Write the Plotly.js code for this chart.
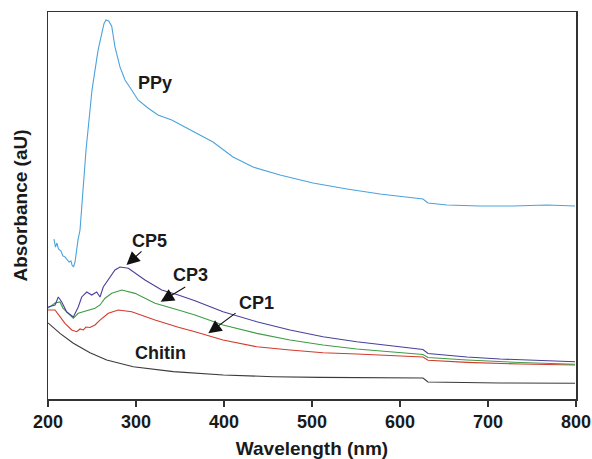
<!DOCTYPE html>
<html>
<head>
<meta charset="utf-8">
<script src="https://cdn.plot.ly/plotly-3.0.1.min.js"></script>
<style>html,body{margin:0;padding:0;background:#fff;}#chart{width:592px;height:459px;}</style>
</head>
<body>
<div id="chart"></div>
<script>
// Wavelength (nm) and absorbance (arbitrary units)
const ppyX = [206.8,208.5,210.2,211.9,214.8,217.0,219.3,221.6,223.9,226.1,227.3,229.0,230.7,234.1,236.4,243.2,250.0,256.8,261.0,263.6,265.9,269.0,272.4,276.1,281.8,287.5,295.1,302.3,313.6,325.0,340.6,355.7,367.0,387.5,410.2,433.0,463.6,501.1,539.8,577.3,626.1,631.8,653.4,690.9,728.4,767.0,798.9];
const ppyY = [1.240,1.178,1.209,1.163,1.147,1.109,1.101,1.078,1.062,1.070,1.039,1.023,1.062,1.233,1.310,1.930,2.395,2.700,2.840,2.910,2.938,2.930,2.890,2.729,2.574,2.473,2.395,2.318,2.256,2.202,2.163,2.109,2.070,1.992,1.876,1.798,1.736,1.674,1.628,1.589,1.550,1.519,1.504,1.496,1.496,1.504,1.496];

const cp5X = [200.0,208.0,211.7,215.6,221.3,228.8,234.4,238.3,244.0,249.7,255.3,259.1,262.8,268.5,276.1,281.8,291.3,310.2,329.2,348.1,367.0,398.9,437.2,475.0,512.5,550.8,588.6,626.1,631.8,676.1,713.6,759.1,798.9];
const cp5Y = [0.713,0.729,0.791,0.752,0.674,0.636,0.713,0.791,0.829,0.806,0.829,0.791,0.868,0.922,1.000,1.023,1.013,0.922,0.845,0.806,0.762,0.677,0.599,0.535,0.483,0.444,0.413,0.384,0.353,0.326,0.310,0.298,0.289];

const cp3X = [200.0,208.0,213.6,217.0,225.0,228.8,234.4,240.1,245.8,253.4,259.1,264.8,272.4,283.8,298.9,321.6,348.1,367.0,398.9,437.2,475.0,512.5,550.8,588.6,626.1,631.8,676.1,736.4,798.9];
const cp3Y = [0.705,0.744,0.752,0.705,0.651,0.626,0.664,0.677,0.690,0.703,0.729,0.781,0.819,0.845,0.819,0.742,0.690,0.651,0.574,0.509,0.457,0.419,0.388,0.367,0.345,0.322,0.302,0.283,0.269];

const cp1X = [200.0,208.0,213.6,219.3,226.9,232.6,236.4,240.1,243.2,247.7,253.4,259.1,268.5,279.9,295.1,321.6,348.1,367.0,398.9,437.2,475.0,512.5,550.8,588.6,626.1,631.8,676.1,736.4,798.9];
const cp1Y = [0.690,0.690,0.638,0.587,0.535,0.522,0.543,0.535,0.558,0.554,0.574,0.612,0.664,0.690,0.677,0.612,0.556,0.522,0.457,0.405,0.380,0.359,0.349,0.339,0.326,0.300,0.284,0.271,0.264];

const chitinX = [200.0,213.6,228.8,247.7,266.7,296.9,342.4,399.2,456.0,509.1,626.1,631.8,713.6,798.9];
const chitinY = [0.590,0.509,0.432,0.359,0.302,0.250,0.212,0.186,0.173,0.168,0.163,0.132,0.124,0.122];

const xTicks = [200,300,400,500,600,700,800];

const FONT = 'Liberation Sans, Arial, sans-serif';
function line(x, y, color) {
  return {x: x, y: y, type: 'scatter', mode: 'lines', line: {color: color, width: 1.1}, hoverinfo: 'skip', showlegend: false};
}
const traces = [
  line(chitinX, chitinY, '#3a3a3a'),
  line(cp1X, cp1Y, '#d23b2c'),
  line(cp3X, cp3Y, '#3f9c45'),
  line(cp5X, cp5Y, '#4a3f9c'),
  line(ppyX, ppyY, '#4aa3dc')
];

function label(text, x, y) {
  return {text: '<b>' + text + '</b>', x: x, y: y, xref: 'x', yref: 'y', showarrow: false,
          font: {family: FONT, size: 18, color: '#1a1a1a'}, xanchor: 'center', yanchor: 'middle'};
}
function arrow(x, y, ax, ay) {
  return {text: '', x: x, y: y, xref: 'x', yref: 'y', ax: ax, ay: ay, showarrow: true,
          arrowhead: 2, arrowsize: 2.4, arrowwidth: 1.1, arrowcolor: '#111', standoff: 0, startstandoff: 0};
}
const annotations = [
  label('PPy', 321.6, 2.450),
  label('CP5', 315.9, 1.225),
  label('CP3', 361.4, 0.961),
  label('CP1', 436.4, 0.744),
  label('Chitin', 328.4, 0.357),
  arrow(289.2, 1.039, 16.5, -15),
  arrow(328.1, 0.754, 26, -15.7),
  arrow(382.2, 0.509, 28.7, -21.3)
];

const layout = {
  width: 592, height: 459,
  margin: {l: 48, r: 16, t: 12, b: 60},
  paper_bgcolor: '#fff', plot_bgcolor: '#fff',
  font: {family: FONT, color: '#1a1a1a'},
  xaxis: {
    range: [200, 800], tickvals: xTicks, ticktext: xTicks.map(String),
    ticks: 'outside', ticklen: 6, tickwidth: 1.5, tickcolor: '#333',
    showline: true, linecolor: '#333', linewidth: 1.5, mirror: true,
    showgrid: false, zeroline: false, ticklabelstandoff: 0,
    tickfont: {family: FONT, size: 18, color: '#1a1a1a', weight: 'bold'},
    title: {text: '<b>Wavelength (nm)</b>', font: {family: FONT, size: 19, color: '#1a1a1a'}, standoff: 10}
  },
  yaxis: {
    range: [0, 3], showticklabels: false, ticks: '',
    showline: true, linecolor: '#333', linewidth: 1.5, mirror: true,
    showgrid: false, zeroline: false,
    title: {text: '<b>Absorbance (aU)</b>', font: {family: FONT, size: 19, color: '#1a1a1a'}, standoff: 14}
  },
  annotations: annotations
};

Plotly.newPlot('chart', traces, layout, {displayModeBar: false, staticPlot: true});
</script>
</body>
</html>
